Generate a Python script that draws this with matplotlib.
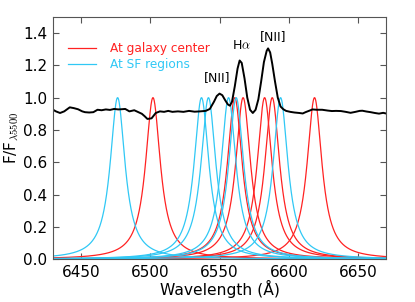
import numpy as np
import matplotlib
matplotlib.use('Agg')
import matplotlib.pyplot as plt

plt.rcParams['mathtext.fontset'] = 'cm'

# line centres (A) of the model profiles
red_centers = [6502, 6561, 6567, 6582.5, 6588, 6618.5]
cyan_centers = [6476.5, 6537, 6542, 6556.5, 6562, 6594]
hwhm = 6.5

# observed spectrum, normalised to 5500 A
spec_wl = [6430, 6432, 6435, 6438, 6442, 6445, 6448, 6451, 6453, 6456, 6459,
           6462, 6465, 6468, 6471, 6474, 6477, 6479, 6482, 6485, 6488.5, 6491,
           6494, 6496, 6498, 6501, 6504, 6507, 6510, 6513, 6516, 6520, 6524,
           6528, 6532, 6536, 6540, 6543, 6546, 6548, 6550, 6552, 6554, 6556,
           6557.5, 6559, 6561, 6563, 6564.5, 6566, 6568, 6570, 6572, 6574,
           6576, 6578, 6580, 6582, 6584, 6585, 6586.5, 6588, 6590, 6592, 6594,
           6596, 6598, 6601, 6604, 6607.5, 6610, 6612, 6615, 6617, 6620, 6624,
           6628, 6631, 6634, 6637.5, 6641, 6644.5, 6648, 6651, 6653, 6656,
           6659, 6662, 6665, 6668, 6670]
spec_fl = [0.925, 0.915, 0.905, 0.915, 0.940, 0.935, 0.928, 0.915, 0.910, 0.908,
           0.910, 0.925, 0.922, 0.927, 0.924, 0.930, 0.927, 0.928, 0.930, 0.915,
           0.922, 0.912, 0.900, 0.885, 0.868, 0.872, 0.905, 0.915, 0.912, 0.918,
           0.912, 0.915, 0.912, 0.918, 0.913, 0.915, 0.918, 0.930, 0.975, 1.010,
           1.025, 1.015, 0.985, 0.958, 0.950, 0.975, 1.070, 1.180, 1.230, 1.215,
           1.120, 1.000, 0.925, 0.905, 0.925, 0.990, 1.100, 1.220, 1.290, 1.305,
           1.280, 1.210, 1.100, 1.000, 0.945, 0.928, 0.918, 0.912, 0.908, 0.905,
           0.902, 0.910, 0.920, 0.927, 0.925, 0.925, 0.920, 0.917, 0.918, 0.917,
           0.912, 0.906, 0.912, 0.918, 0.919, 0.914, 0.910, 0.905, 0.901, 0.906,
           0.902]

wl = np.linspace(6430, 6670, 2000)

fig = plt.figure(figsize=(4.15, 3.02), dpi=100)
ax = fig.add_axes([0.128, 0.142, 0.802, 0.802])

for i, c in enumerate(red_centers):
    prof = 1.0 / (1.0 + ((wl - c) / hwhm) ** 2)
    ax.plot(wl, prof, color='#ff2222', lw=0.9,
            label='At galaxy center' if i == 0 else None)
for i, c in enumerate(cyan_centers):
    prof = 1.0 / (1.0 + ((wl - c) / hwhm) ** 2)
    ax.plot(wl, prof, color='#30c8f5', lw=0.9,
            label='At SF regions' if i == 0 else None)

ax.plot(spec_wl, spec_fl, 'k-', lw=1.4)

ax.text(6548, 1.127, '[NII]', fontsize=9, ha='center', va='center')
ax.text(6565.5, 1.325, r'H$\alpha$', fontsize=9, ha='center', va='center')
ax.text(6589, 1.377, '[NII]', fontsize=9, ha='center', va='center')

ax.set_xlim(6430, 6670)
ax.set_ylim(0, 1.5)
ax.set_xticks([6450, 6500, 6550, 6600, 6650])
ax.set_yticks([0.0, 0.2, 0.4, 0.6, 0.8, 1.0, 1.2, 1.4])
ax.tick_params(direction='in', top=True, right=True, length=4, labelsize=11,
               color='#555555', pad=4)
for s in ax.spines.values():
    s.set_color('#555555')
ax.set_xlabel(u'Wavelength (\u00c5)', fontsize=11.2, labelpad=0)
ax.set_ylabel(r'F/F$_{\lambda5500}$', fontsize=11, labelpad=2)

leg = ax.legend(loc='upper left', frameon=False, fontsize=8.7, handlelength=2.35,
                handletextpad=1.13, labelspacing=0.22,
                bbox_to_anchor=(0.012, 0.94))
for t, col in zip(leg.get_texts(), ['#ff2222', '#30c8f5']):
    t.set_color(col)

fig.savefig('out.png', dpi=100)
